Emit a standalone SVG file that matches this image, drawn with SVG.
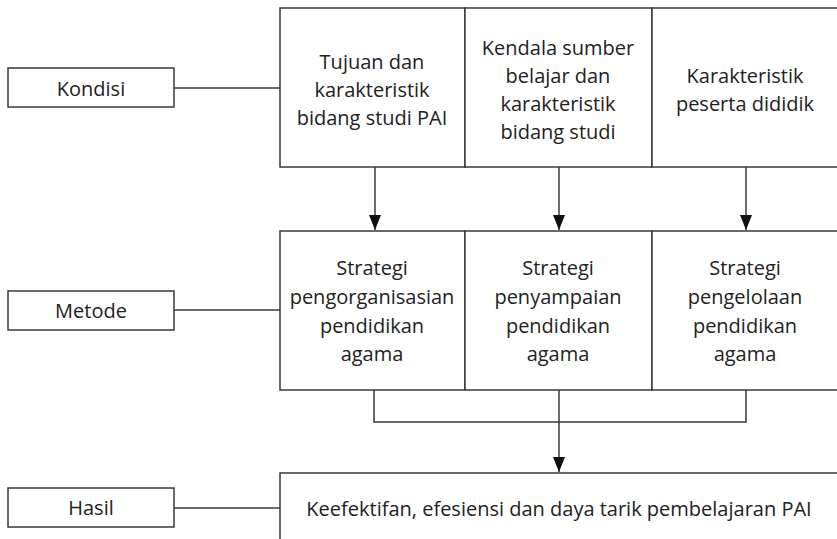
<svg xmlns="http://www.w3.org/2000/svg" width="837" height="539" viewBox="0 0 837 539">
<defs>
<style>
.box{fill:#fff;stroke:#3a3a3a;stroke-width:1.5}
.ln{fill:none;stroke:#3a3a3a;stroke-width:1.5}
text{font-family:"Open Sans","Noto Sans",sans-serif;font-size:20px;fill:#222;text-anchor:middle}
</style>
<marker id="arrow" markerWidth="15" markerHeight="12" refX="15" refY="6" orient="auto" markerUnits="userSpaceOnUse" viewBox="0 0 15 12">
<path d="M0,0 L15,6 L0,12 Z" fill="#111"/>
</marker>
</defs>
<rect width="837" height="539" fill="#fff"/>
<g id="connectors">
<line class="ln" x1="174" y1="88" x2="280" y2="88"/>
<line class="ln" x1="174" y1="310" x2="280" y2="310"/>
<line class="ln" x1="174" y1="508" x2="280" y2="508"/>
<line class="ln" x1="375" y1="167" x2="375" y2="230" marker-end="url(#arrow)"/>
<line class="ln" x1="559" y1="167" x2="559" y2="230" marker-end="url(#arrow)"/>
<line class="ln" x1="746" y1="167" x2="746" y2="230" marker-end="url(#arrow)"/>
<polyline class="ln" points="374,390 374,422 746,422 746,390"/>
<line class="ln" x1="559" y1="390" x2="559" y2="472" marker-end="url(#arrow)"/>
</g>
<g id="kondisi">
<rect class="box" x="8" y="68" width="166" height="39"/>
<text x="91" y="96">Kondisi</text>
</g>
<g id="metode">
<rect class="box" x="8" y="291" width="166" height="39"/>
<text x="91" y="318">Metode</text>
</g>
<g id="hasil">
<rect class="box" x="8" y="488" width="166" height="39"/>
<text x="91" y="515">Hasil</text>
</g>
<g id="tujuan">
<rect class="box" x="280" y="8" width="185" height="159"/>
<text x="372" y="69">Tujuan dan</text>
<text x="372" y="97">karakteristik</text>
<text x="372" y="125">bidang studi PAI</text>
</g>
<g id="kendala">
<rect class="box" x="465" y="8" width="187" height="159"/>
<text x="558" y="55">Kendala sumber</text>
<text x="558" y="83">belajar dan</text>
<text x="558" y="111">karakteristik</text>
<text x="558" y="139">bidang studi</text>
</g>
<g id="karakteristik-peserta">
<rect class="box" x="652" y="8" width="190" height="159"/>
<text x="745" y="83">Karakteristik</text>
<text x="745" y="111">peserta dididik</text>
</g>
<g id="pengorganisasian">
<rect class="box" x="280" y="231" width="185" height="159"/>
<text x="372" y="275">Strategi</text>
<text x="372" y="304">pengorganisasian</text>
<text x="372" y="333">pendidikan</text>
<text x="372" y="361">agama</text>
</g>
<g id="penyampaian">
<rect class="box" x="465" y="231" width="187" height="159"/>
<text x="558" y="275">Strategi</text>
<text x="558" y="304">penyampaian</text>
<text x="558" y="333">pendidikan</text>
<text x="558" y="361">agama</text>
</g>
<g id="pengelolaan">
<rect class="box" x="652" y="231" width="190" height="159"/>
<text x="745" y="275">Strategi</text>
<text x="745" y="304">pengelolaan</text>
<text x="745" y="333">pendidikan</text>
<text x="745" y="361">agama</text>
</g>
<g id="keefektifan">
<rect class="box" x="280" y="473" width="562" height="80"/>
<text x="559" y="516">Keefektifan, efesiensi dan daya tarik pembelajaran PAI</text>
</g>
</svg>
